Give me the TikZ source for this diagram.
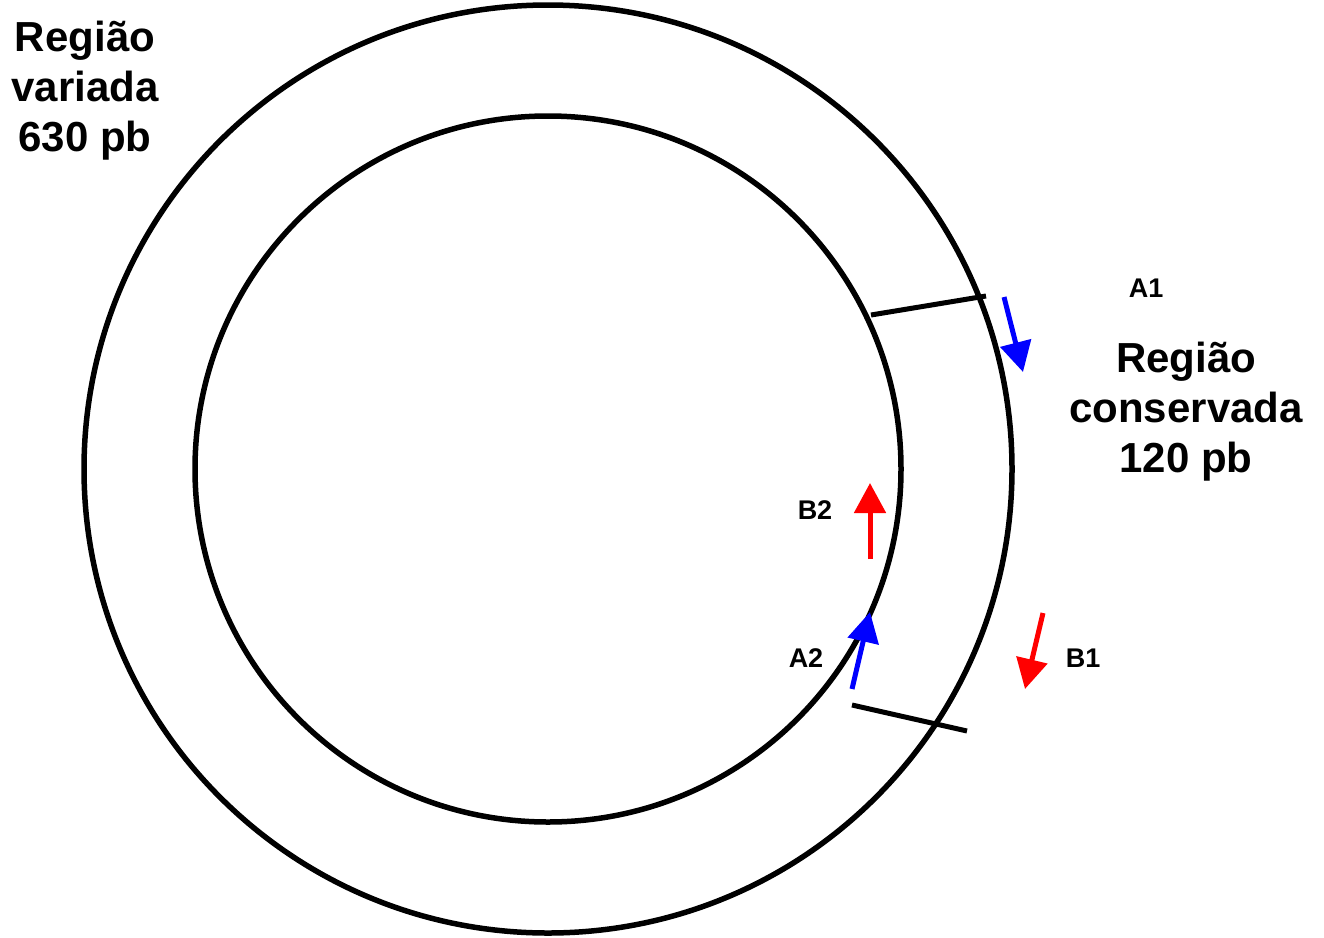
\documentclass[tikz,border=0pt]{standalone}
\usepackage{fontspec}
\setmainfont{Liberation Sans}
\usetikzlibrary{arrows.meta}

\begin{document}
\begin{tikzpicture}[
    x=1pt, y=-1pt,
    ring/.style={draw, line width=5.5pt},
    tick/.style={draw, line width=5pt},
    primer/.style={line width=5pt, -{Triangle[length=30pt, width=31pt]}},
    fwd/.style={primer, draw=blue},
    rev/.style={primer, draw=red},
    region/.style={font=\bfseries\fontsize{42}{50}\selectfont, align=center},
    plabel/.style={font=\bfseries\fontsize{27}{30}\selectfont}
]
\useasboundingbox (0,0) rectangle (1324,937);

\def\cx{548}
\def\cy{469}

% plasmid ring
\draw[ring] (\cx,\cy) circle (464);
\draw[ring] (\cx,\cy) circle (353);

% borders of the conserved region
\coordinate (t1a) at (871,315);
\coordinate (t1b) at (986,296);
\coordinate (t2a) at (852,705);
\coordinate (t2b) at (967,731);
\draw[tick] (t1a) -- (t1b);
\draw[tick] (t2a) -- (t2b);

% primers
\coordinate (a1s) at (1004,297);
\coordinate (a1e) at (1023,372);
\coordinate (b1s) at (1043,613);
\coordinate (b1e) at (1025,689);
\coordinate (a2s) at (852,689);
\coordinate (a2e) at (870,612);
\coordinate (b2s) at (870,559);
\coordinate (b2e) at (870,483);
\draw[fwd] (a1s) -- (a1e);
\draw[rev] (b1s) -- (b1e);
\draw[fwd] (a2s) -- (a2e);
\draw[rev] (b2s) -- (b2e);

\node[plabel] (lA1) at (1146,288) {A1};
\node[plabel] (lB1) at (1083,658) {B1};
\node[plabel] (lA2) at (806,658) {A2};
\node[plabel] (lB2) at (815,510) {B2};

% region labels
\node[region] (var) at (85,91) {Região\\variada\\630 pb};
\node[region] (cons) at (1186,412) {Região\\conservada\\120 pb};

\end{tikzpicture}
\end{document}
